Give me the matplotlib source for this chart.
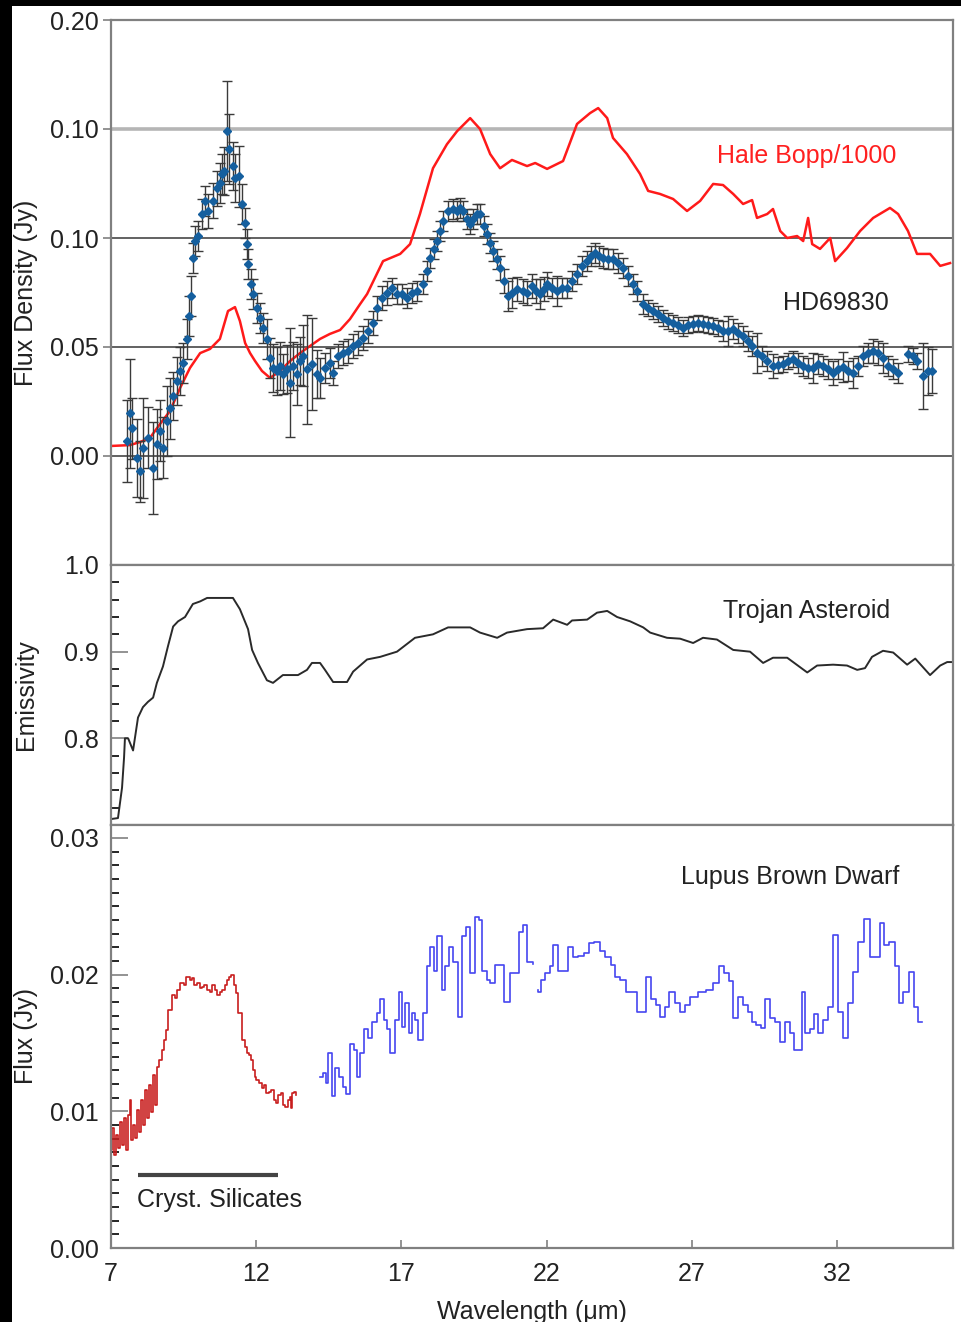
import numpy as np
import matplotlib
matplotlib.use('Agg')
import matplotlib.pyplot as plt
from matplotlib.patches import Rectangle
from matplotlib.ticker import FixedLocator, MultipleLocator

plt.rcParams['font.family'] = ['Liberation Sans', 'DejaVu Sans']

# Hale-Bopp spectrum, scaled down by 1000
hb_x = [7.00, 7.65, 8.00, 8.34, 8.69, 9.03, 9.38, 9.72, 10.07, 10.41, 10.75, 11.03, 11.27, 11.44, 11.62,
        11.79, 11.96, 12.20, 12.48, 12.82, 13.17, 13.51, 13.86, 14.20, 14.54, 14.89, 15.23, 15.58, 15.82,
        16.37, 16.96, 17.30, 17.64, 18.09, 18.57, 18.92, 19.37, 19.71, 20.06, 20.40, 20.81, 21.33, 21.61,
        22.02, 22.57, 22.74, 23.05, 23.50, 23.78, 24.09, 24.29, 24.77, 25.22, 25.50, 25.91, 26.36, 26.84,
        27.29, 27.74, 28.08, 28.43, 28.77, 29.08, 29.25, 29.60, 29.80, 30.05, 30.29, 30.63, 30.84, 31.01,
        31.15, 31.42, 31.77, 31.94, 32.35, 32.80, 33.25, 33.83, 34.11, 34.45, 34.76, 35.21, 35.56, 35.90]
hb_y = [0.0046, 0.0050, 0.0064, 0.0083, 0.0147, 0.0206, 0.0312, 0.0404, 0.0472, 0.0491, 0.0537, 0.0665,
        0.0683, 0.0619, 0.0518, 0.0472, 0.0436, 0.0390, 0.0358, 0.0390, 0.0436, 0.0472, 0.0505, 0.0537,
        0.0560, 0.0578, 0.0628, 0.0697, 0.0743, 0.0894, 0.0927, 0.0972, 0.1110, 0.1320, 0.1430, 0.1490,
        0.1550, 0.1500, 0.1385, 0.1320, 0.1358, 0.1330, 0.1344, 0.1317, 0.1353, 0.1413, 0.1523, 0.1573,
        0.1596, 0.1550, 0.1459, 0.1385, 0.1294, 0.1216, 0.1202, 0.1179, 0.1124, 0.1170, 0.1248, 0.1243,
        0.1202, 0.1156, 0.1174, 0.1092, 0.1110, 0.1133, 0.1032, 0.1000, 0.1009, 0.0986, 0.1092, 0.0972,
        0.0950, 0.1000, 0.0894, 0.0954, 0.1032, 0.1092, 0.1138, 0.1110, 0.1032, 0.0927, 0.0927, 0.0872,
        0.0885]

# HD69830 excess spectrum with 1-sigma errors
hd_x = [7.55, 7.65, 7.72, 7.90, 8.00, 8.10, 8.27, 8.45, 8.58, 8.69, 8.79, 8.93, 9.03, 9.14, 9.27, 9.38,
        9.48, 9.62, 9.69, 9.76, 9.82, 9.89, 10.00, 10.13, 10.24, 10.34, 10.51, 10.65, 10.75, 10.82, 10.89,
        11.00, 11.06, 11.20, 11.27, 11.41, 11.51, 11.62, 11.68, 11.72, 11.82, 11.89, 12.03, 12.13, 12.24,
        12.37, 12.48, 12.58, 12.72, 12.82, 12.92, 13.06, 13.17, 13.27, 13.41, 13.51, 13.61, 13.75, 13.92,
        14.10, 14.20, 14.37, 14.54, 14.65, 14.82, 14.99, 15.16, 15.34, 15.51, 15.68, 15.85, 16.03, 16.16,
        16.34, 16.51, 16.68, 16.85, 17.02, 17.20, 17.37, 17.54, 17.75, 17.89, 17.99, 18.13, 18.23, 18.33,
        18.44, 18.61, 18.78, 18.92, 19.02, 19.13, 19.26, 19.37, 19.47, 19.61, 19.71, 19.85, 19.95, 20.06,
        20.16, 20.30, 20.40, 20.54, 20.68, 20.81, 20.99, 21.19, 21.33, 21.50, 21.64, 21.78, 21.92, 22.02,
        22.19, 22.36, 22.54, 22.71, 22.88, 23.05, 23.22, 23.40, 23.53, 23.67, 23.81, 23.95, 24.12, 24.29,
        24.46, 24.64, 24.81, 24.98, 25.12, 25.33, 25.50, 25.67, 25.84, 26.01, 26.19, 26.36, 26.53, 26.70,
        26.88, 27.05, 27.22, 27.39, 27.57, 27.74, 27.91, 28.08, 28.25, 28.43, 28.60, 28.77, 28.94, 29.08,
        29.25, 29.43, 29.60, 29.80, 29.98, 30.15, 30.32, 30.49, 30.67, 30.84, 31.01, 31.18, 31.35, 31.53,
        31.70, 31.87, 32.04, 32.21, 32.39, 32.56, 32.73, 32.90, 33.08, 33.25, 33.42, 33.59, 33.77, 33.94,
        34.11, 34.45, 34.63, 34.76, 34.97, 35.14, 35.28]
hd_y = [0.0069, 0.0197, 0.0128, -0.0009, -0.0069, 0.0037, 0.0083, -0.0055, 0.0055, 0.0115, 0.0037, 0.0161,
        0.0220, 0.0275, 0.0344, 0.0390, 0.0427, 0.0537, 0.0642, 0.0734, 0.0908, 0.0986, 0.1009, 0.1110,
        0.1170, 0.1124, 0.1170, 0.1229, 0.1252, 0.1294, 0.1307, 0.1491, 0.1408, 0.1330, 0.1275, 0.1284,
        0.1156, 0.1069, 0.0972, 0.0881, 0.0789, 0.0743, 0.0679, 0.0633, 0.0587, 0.0537, 0.0450, 0.0404,
        0.0390, 0.0413, 0.0376, 0.0399, 0.0335, 0.0413, 0.0376, 0.0436, 0.0459, 0.0399, 0.0422, 0.0376,
        0.0358, 0.0404, 0.0427, 0.0381, 0.0459, 0.0472, 0.0482, 0.0505, 0.0518, 0.0541, 0.0573, 0.0610,
        0.0679, 0.0725, 0.0748, 0.0771, 0.0743, 0.0743, 0.0725, 0.0748, 0.0757, 0.0789, 0.0849, 0.0908,
        0.0950, 0.0986, 0.1032, 0.1078, 0.1124, 0.1133, 0.1124, 0.1138, 0.1124, 0.1087, 0.1064, 0.1087,
        0.1110, 0.1110, 0.1055, 0.1018, 0.0977, 0.0940, 0.0904, 0.0862, 0.0803, 0.0734, 0.0748, 0.0766,
        0.0757, 0.0748, 0.0780, 0.0757, 0.0743, 0.0766, 0.0789, 0.0771, 0.0757, 0.0771, 0.0771, 0.0803,
        0.0835, 0.0872, 0.0894, 0.0917, 0.0931, 0.0917, 0.0908, 0.0904, 0.0904, 0.0885, 0.0862, 0.0826,
        0.0789, 0.0757, 0.0697, 0.0679, 0.0665, 0.0651, 0.0633, 0.0619, 0.0610, 0.0601, 0.0587, 0.0601,
        0.0606, 0.0610, 0.0606, 0.0601, 0.0596, 0.0587, 0.0573, 0.0573, 0.0583, 0.0564, 0.0550, 0.0528,
        0.0505, 0.0472, 0.0459, 0.0436, 0.0413, 0.0417, 0.0422, 0.0436, 0.0445, 0.0427, 0.0413, 0.0404,
        0.0404, 0.0422, 0.0413, 0.0399, 0.0381, 0.0399, 0.0408, 0.0390, 0.0381, 0.0413, 0.0459, 0.0472,
        0.0482, 0.0472, 0.0450, 0.0413, 0.0399, 0.0381, 0.0468, 0.0459, 0.0436, 0.0367, 0.0390, 0.0390]
hd_err = [0.019, 0.025, 0.014, 0.018, 0.014, 0.023, 0.014, 0.021, 0.016, 0.014, 0.014, 0.016, 0.014,
          0.011, 0.011, 0.011, 0.009, 0.009, 0.009, 0.009, 0.007, 0.007, 0.007, 0.007, 0.007, 0.008,
          0.008, 0.008, 0.009, 0.009, 0.011, 0.023, 0.016, 0.011, 0.011, 0.014, 0.009, 0.007, 0.007,
          0.007, 0.007, 0.007, 0.007, 0.007, 0.007, 0.009, 0.009, 0.011, 0.011, 0.011, 0.009, 0.011,
          0.025, 0.011, 0.014, 0.011, 0.014, 0.025, 0.021, 0.011, 0.009, 0.007, 0.007, 0.0055, 0.0055,
          0.0055, 0.0055, 0.0055, 0.0055, 0.0055, 0.0055, 0.0055, 0.0055, 0.0055, 0.0055, 0.0046,
          0.0046, 0.0046, 0.0046, 0.0046, 0.0046, 0.0046, 0.0046, 0.0046, 0.0046, 0.0046, 0.0046,
          0.0046, 0.0046, 0.0046, 0.0046, 0.0046, 0.0046, 0.0046, 0.0046, 0.0046, 0.0046, 0.0046,
          0.0046, 0.0046, 0.0046, 0.0046, 0.0046, 0.0055, 0.0055, 0.007, 0.007, 0.0055, 0.0055, 0.0055,
          0.0055, 0.0055, 0.007, 0.0055, 0.0055, 0.0046, 0.007, 0.0046, 0.0046, 0.0046, 0.0046, 0.0046,
          0.0046, 0.0046, 0.0046, 0.0046, 0.0046, 0.0046, 0.0046, 0.0046, 0.0046, 0.0046,
          0.0046, 0.0046, 0.0046, 0.0037, 0.0037, 0.0037, 0.0037, 0.0037, 0.0037, 0.0037, 0.0037,
          0.0037, 0.0037, 0.0037, 0.0037, 0.0037, 0.0037, 0.0037, 0.0046, 0.007, 0.0046, 0.0046,
          0.0046, 0.0046, 0.0046, 0.009, 0.0046, 0.0046, 0.0055, 0.0037, 0.0037, 0.0037, 0.0037,
          0.0046, 0.0046, 0.0046, 0.007, 0.0046, 0.0046, 0.0046, 0.0055, 0.0046, 0.007, 0.0046, 0.007,
          0.0046, 0.0046, 0.0046, 0.0055, 0.0055, 0.007, 0.0046, 0.0046, 0.0046, 0.0037, 0.0037,
          0.0037, 0.015, 0.011, 0.010]

top_ticks = [0.0, 0.05, 0.10, 0.15, 0.20]
top_labels = ['0.00', '0.05', '0.10', '0.10', '0.20']

# Trojan asteroid emissivity
tr_x = [7.03, 7.24, 7.38, 7.45, 7.48, 7.59, 7.76, 7.93, 8.10, 8.27, 8.45, 8.58, 8.79, 8.96, 9.14, 9.31,
        9.55, 9.82, 10.07, 10.31, 11.20, 11.44, 11.72, 11.86, 12.06, 12.37, 12.58, 12.92, 13.17, 13.44,
        13.75, 13.92, 14.20, 14.37, 14.65, 15.13, 15.34, 15.82, 16.27, 16.85, 17.47, 18.09, 18.61, 19.37,
        19.71, 20.30, 20.64, 21.33, 21.88, 22.23, 22.71, 22.88, 23.40, 23.74, 24.09, 24.43, 24.88, 25.33,
        25.57, 26.15, 26.60, 27.05, 27.39, 27.87, 28.43, 29.01, 29.46, 29.80, 30.29, 30.98, 31.32, 31.87,
        32.35, 32.70, 32.97, 33.21, 33.59, 33.94, 34.42, 34.70, 35.21, 35.56, 35.80, 36.00]
tr_y = [0.707, 0.708, 0.743, 0.778, 0.800, 0.800, 0.786, 0.824, 0.836, 0.842, 0.847, 0.864, 0.883, 0.906,
        0.929, 0.935, 0.940, 0.955, 0.958, 0.962, 0.962, 0.949, 0.926, 0.902, 0.887, 0.867, 0.864, 0.873,
        0.873, 0.873, 0.879, 0.887, 0.887, 0.879, 0.865, 0.865, 0.877, 0.891, 0.894, 0.900, 0.916, 0.920,
        0.928, 0.928, 0.922, 0.916, 0.922, 0.926, 0.927, 0.937, 0.931, 0.936, 0.937, 0.945, 0.947, 0.940,
        0.935, 0.928, 0.922, 0.916, 0.915, 0.910, 0.916, 0.914, 0.902, 0.900, 0.887, 0.893, 0.893, 0.876,
        0.884, 0.885, 0.884, 0.879, 0.881, 0.894, 0.901, 0.899, 0.885, 0.892, 0.873, 0.884, 0.888, 0.888]

# Lupus brown dwarf, short-wavelength module
bd_red_x = [7.00, 7.07, 7.14, 7.21, 7.28, 7.34, 7.41, 7.48, 7.55, 7.62, 7.69, 7.72, 7.79, 7.86, 7.93,
            8.00, 8.07, 8.14, 8.21, 8.27, 8.34, 8.41, 8.48, 8.55, 8.62, 8.69, 8.79, 8.86, 8.93, 9.03,
            9.14, 9.24, 9.31, 9.45, 9.55, 9.65, 9.76, 9.82, 9.93, 10.00, 10.10, 10.17, 10.27, 10.34,
            10.45, 10.51, 10.62, 10.69, 10.79, 10.86, 10.96, 11.03, 11.10, 11.17, 11.27, 11.34, 11.44,
            11.55, 11.65, 11.72, 11.79, 11.86, 11.93, 11.96, 12.06, 12.13, 12.24, 12.30, 12.37, 12.48,
            12.55, 12.65, 12.72, 12.79, 12.89, 12.96, 13.06, 13.13, 13.17, 13.23, 13.27, 13.34, 13.37]
bd_red_y = [0.00717, 0.00878, 0.0068, 0.00827, 0.00732, 0.00922, 0.00754, 0.00951, 0.00717, 0.00973,
            0.01083, 0.0079, 0.009, 0.00805, 0.0101, 0.00849, 0.01083, 0.009, 0.01156, 0.00951, 0.01193,
            0.00995, 0.01266, 0.01046, 0.01324, 0.01376, 0.01449, 0.01522, 0.01595, 0.01741, 0.01851,
            0.01829, 0.01888, 0.01939, 0.01924, 0.01983, 0.01961, 0.01976, 0.01924, 0.01939, 0.01902,
            0.0191, 0.01924, 0.01888, 0.01873, 0.01924, 0.01888, 0.01851, 0.01873, 0.01888, 0.01924,
            0.01961, 0.01983, 0.01998, 0.01924, 0.01866, 0.0172, 0.01522, 0.01471, 0.01427, 0.01412,
            0.01376, 0.01302, 0.01251, 0.01229, 0.01207, 0.01171, 0.01193, 0.01134, 0.01141, 0.01156,
            0.01083, 0.01061, 0.0112, 0.01134, 0.01046, 0.01032, 0.01083, 0.01105, 0.01024, 0.01134,
            0.01141, 0.0112]

# Lupus brown dwarf, long-wavelength module (gap between orders)
bd_blue_x = [14.20, 14.37, 14.44, 14.54, 14.65, 14.79, 14.89, 15.06, 15.16, 15.30, 15.41, 15.51, 15.65,
             15.75, 15.92, 16.09, 16.20, 16.34, 16.44, 16.54, 16.71, 16.85, 16.96, 17.06, 17.20, 17.30,
             17.40, 17.54, 17.64, 17.82, 17.92, 18.06, 18.16, 18.33, 18.44, 18.57, 18.68, 18.85, 19.02,
             19.13, 19.30, 19.44, 19.61, 19.71, 19.88, 19.99, 20.12, 20.30, 20.47, 20.57, 20.68, 20.81,
             20.99, 21.09, 21.26, 21.43, 21.67, np.nan,
             21.61, 21.78, 21.85, 22.02, 22.19, 22.29, 22.47, 22.64, 22.81, 22.98, 23.16, 23.40, 23.50,
             23.78, 23.91, 24.12, 24.29, 24.43, 24.64, 24.81, 25.05, 25.15, 25.33, 25.50, 25.67, 25.84,
             25.98, 26.15, 26.32, 26.50, 26.67, 26.84, 27.05, 27.36, 27.63, 27.87, 28.04, 28.21, 28.39,
             28.49, 28.67, 28.84, 29.01, 29.12, 29.29, 29.46, 29.60, 29.77, 29.94, 30.11, 30.29, 30.46,
             30.56, 30.73, 30.84, 30.98, 31.15, 31.25, 31.42, 31.60, 31.77, 31.94, 32.11, 32.28, 32.46,
             32.63, 32.80, 33.04, 33.21, 33.42, 33.56, 33.66, 33.94, 34.08, 34.18, 34.35, 34.59, 34.70,
             34.87, 34.94]
bd_blue_y = [0.0125, 0.0128, 0.0121, 0.0143, 0.0111, 0.0132, 0.0125, 0.0118, 0.0113, 0.0149, 0.0145,
             0.0125, 0.0143, 0.0160, 0.0154, 0.0165, 0.0172, 0.0182, 0.0167, 0.0160, 0.0143, 0.0167,
             0.0187, 0.0162, 0.0179, 0.0157, 0.0172, 0.0167, 0.0152, 0.0172, 0.0206, 0.0220, 0.0203,
             0.0228, 0.0189, 0.0206, 0.0220, 0.0209, 0.0169, 0.0228, 0.0235, 0.0201, 0.0242, 0.0240,
             0.0203, 0.0196, 0.0194, 0.0207, 0.0207, 0.0180, 0.0180, 0.0201, 0.0201, 0.0231, 0.0236,
             0.0209, 0.0208, np.nan,
             0.0189, 0.0187, 0.0196, 0.0201, 0.0206, 0.0222, 0.0203, 0.0203, 0.0220, 0.0213, 0.0214,
             0.0216, 0.0223, 0.0224, 0.0217, 0.0213, 0.0207, 0.0198, 0.0196, 0.0187, 0.0187, 0.0173,
             0.0173, 0.0198, 0.0182, 0.0178, 0.0169, 0.0176, 0.0187, 0.0179, 0.0173, 0.0178, 0.0184,
             0.0187, 0.0189, 0.0194, 0.0206, 0.0201, 0.0195, 0.0168, 0.0184, 0.0178, 0.0173, 0.0165,
             0.0163, 0.0161, 0.0182, 0.0168, 0.0165, 0.0151, 0.0165, 0.0157, 0.0145, 0.0145, 0.0187,
             0.0157, 0.0160, 0.0171, 0.0157, 0.0167, 0.0176, 0.0229, 0.0173, 0.0154, 0.0179, 0.0202,
             0.0224, 0.0241, 0.0213, 0.0213, 0.0238, 0.0222, 0.0224, 0.0206, 0.0179, 0.0187, 0.0202,
             0.0176, 0.0165, 0.0165]

silicate_band = [7.93, 12.75]
x_ticks = [7, 12, 17, 22, 27, 32]

W, H = 962, 1322
fig = plt.figure(figsize=(W / 100, H / 100), dpi=100)

# black strips along the top and left edge of the scan
fig.patches.append(Rectangle((0, 1 - 6 / H), 1, 6 / H, transform=fig.transFigure,
                             facecolor='black', edgecolor='none', zorder=10))
fig.patches.append(Rectangle((0, 0), 12 / W, 1, transform=fig.transFigure,
                             facecolor='black', edgecolor='none', zorder=10))

left, right = 111 / W, 953 / W


def panel(top_px, bottom_px):
    return fig.add_axes([left, 1 - bottom_px / H, right - left, (bottom_px - top_px) / H])


ax1 = panel(20, 565)
ax2 = panel(565, 825)
ax3 = panel(825, 1248)

spine_col = '#808080'
txt_col = '#222222'
fs = 18

for ax in (ax1, ax2, ax3):
    ax.set_xlim(7, 36)
    for s in ax.spines.values():
        s.set_color(spine_col)
        s.set_linewidth(1.6)
    ax.tick_params(colors=spine_col, labelcolor=txt_col, labelsize=fs)
    ax.yaxis.set_label_coords(-0.0867, 0.5)

# top panel: comet and HD69830
ax1.set_ylim(-0.05, 0.20)
ax1.yaxis.set_major_locator(FixedLocator(top_ticks))
ax1.set_yticklabels(top_labels)
ax1.tick_params(axis='y', direction='out', length=6, width=1.2, pad=3)
ax1.tick_params(axis='x', bottom=False, labelbottom=False)
ax1.grid(axis='y', color='#555555', linewidth=1.3)
for val, gl in zip(top_ticks, ax1.get_ygridlines()):
    if val == 0.15:
        gl.set_color('#b5b5b5')
        gl.set_linewidth(2.6)
    if val == 0.20:
        gl.set_visible(False)
ax1.set_axisbelow(True)

ax1.plot(hb_x, hb_y, color='#ff1a1a', lw=1.8, zorder=2)
ax1.errorbar(hd_x, hd_y, yerr=hd_err, fmt='D', color='#155f9e', ms=4, mec='#155f9e',
             ecolor='#3a3a3a', elinewidth=1.0, capsize=3.5, capthick=1.0, zorder=3)
ax1.text(27.87, 0.1376, 'Hale Bopp/1000', color='#ff2020', fontsize=fs, va='center')
ax1.text(30.15, 0.0702, 'HD69830', color=txt_col, fontsize=fs, va='center')
ax1.set_ylabel('Flux Density (Jy)', fontsize=fs, color=txt_col)

# middle panel: Trojan asteroid
ax2.set_ylim(0.7, 1.0)
ax2.yaxis.set_major_locator(FixedLocator([0.8, 0.9, 1.0]))
ax2.set_yticklabels(['0.8', '0.9', '1.0'])
ax2.yaxis.set_minor_locator(MultipleLocator(0.02))
ax2.tick_params(axis='y', which='major', direction='in', length=12, width=1.2, pad=9)
ax2.tick_params(axis='y', which='minor', direction='in', length=6, width=1.2)
ax2.tick_params(axis='x', bottom=False, labelbottom=False)
ax2.plot(tr_x, tr_y, color='#2a2a2a', lw=1.4)
ax2.text(28.08, 0.9465, 'Trojan Asteroid', color=txt_col, fontsize=fs, va='center')
ax2.set_ylabel('Emissivity', fontsize=fs, color=txt_col)

# bottom panel: brown dwarf
ax3.set_ylim(0, 0.03095)
ax3.yaxis.set_major_locator(FixedLocator([0.0, 0.01, 0.02, 0.03]))
ax3.set_yticklabels(['0.00', '0.01', '0.02', '0.03'])
ax3.yaxis.set_minor_locator(MultipleLocator(0.001))
ax3.tick_params(axis='y', which='major', direction='in', length=12, width=1.2, pad=9)
ax3.tick_params(axis='y', which='minor', direction='in', length=6, width=1.2)
ax3.set_xticks(x_ticks)
ax3.tick_params(axis='x', direction='in', length=6, width=1.2, pad=10)
ax3.plot(bd_red_x, bd_red_y, color='#c81e1e', lw=1.2, drawstyle='steps-mid')
ax3.plot(bd_blue_x, bd_blue_y, color='#4646f0', lw=1.2, drawstyle='steps-mid')
ax3.plot(silicate_band, [0.00534, 0.00534], color='#444444', lw=3, solid_capstyle='butt')
ax3.text(7.90, 0.0035, 'Cryst. Silicates', color=txt_col, fontsize=fs, va='center')
ax3.text(26.63, 0.02715, 'Lupus Brown Dwarf', color=txt_col, fontsize=fs, va='center')
ax3.set_ylabel('Flux (Jy)', fontsize=fs, color=txt_col)
ax3.set_xlabel('Wavelength (\u03bcm)', fontsize=fs, color=txt_col)
ax3.xaxis.set_label_coords(0.5, -0.123)

fig.savefig('out.png', dpi=100, facecolor='white')
